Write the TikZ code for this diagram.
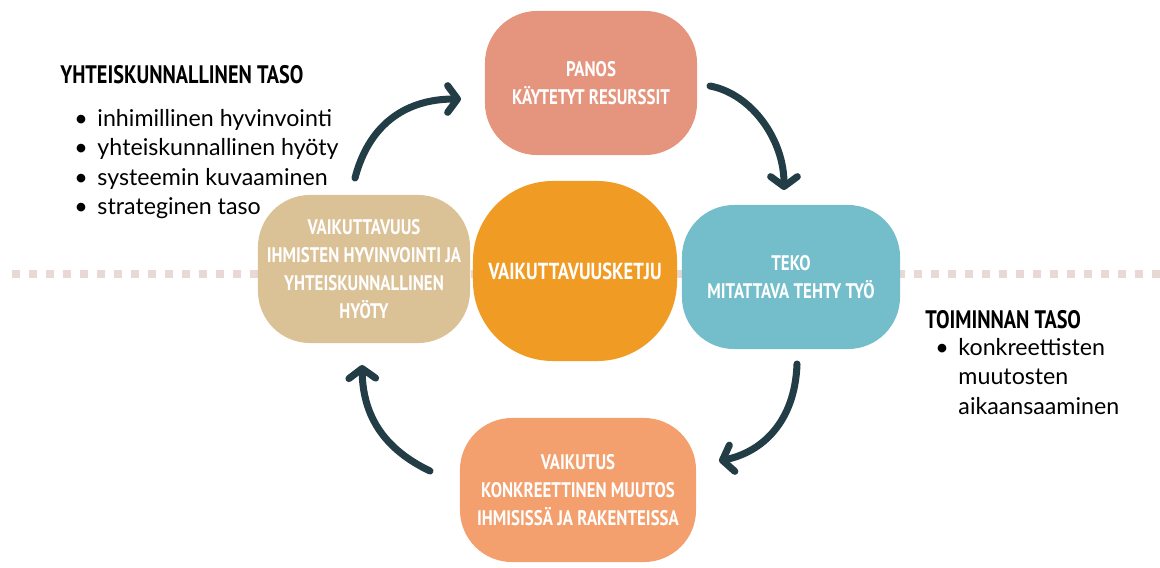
\documentclass[tikz,border=0pt]{standalone}
\usepackage{fontspec}
\setmainfont{Lato}
\newfontfamily\blobfont[FakeStretch=0.8]{PT Sans}
\usetikzlibrary{arrows.meta, shapes.geometric, positioning}
\definecolor{panosc}{HTML}{E5957E}
\definecolor{tekoc}{HTML}{74BECB}
\definecolor{vaikc}{HTML}{F4A06E}
\definecolor{vtc}{HTML}{DBC196}
\definecolor{ketjuc}{HTML}{F09B24}
\definecolor{arrowc}{HTML}{233D47}
\definecolor{dotc}{HTML}{E8D9D5}
\tikzstyle{blob} = [rectangle, rounded corners=1.3cm, minimum width=5.3cm, minimum height=3.6cm, text centered, align=center, text=white, font=\blobfont\bfseries\fontsize{15}{20}\selectfont]
\tikzstyle{head} = [anchor=west, inner sep=0pt, font=\blobfont\bfseries\fontsize{18}{20}\selectfont]
\tikzstyle{list} = [anchor=north west, inner sep=0pt, align=left, font=\fontsize{16.5}{21}\selectfont]
\tikzset{
	FLOW/.style={line width=5pt, line cap=round, draw=arrowc, arrows={-{Straight Barb[length=7pt,width=19pt,round]}}}
}
\newcommand{\bul}[1]{\makebox[16.5pt][l]{\textbullet}#1}
\begin{document}
\begin{tikzpicture}[x=0.025cm, y=-0.025cm]
	\useasboundingbox (0,0) rectangle (1160,567);
	% dotted level line
	\draw[dotc, line width=5.7pt, dash pattern=on 5.7pt off 6.4pt] (12,274) -- (1160,274);
	% blobs
	\node (panos) [blob, fill=panosc] at (591,83) {PANOS\\KÄYTETYT RESURSSIT};
	\node (teko) [blob, fill=tekoc, minimum width=5.45cm] at (791,277) {TEKO\\MITATTAVA TEHTY TYÖ};
	\node (vaikutus) [blob, fill=vaikc, minimum width=5.9cm] at (578,490) {VAIKUTUS\\KONKREETTINEN MUUTOS\\IHMISISSÄ JA RAKENTEISSA};
	\node (vaikuttavuus) [blob, fill=vtc, minimum height=3.7cm] at (364,269) {VAIKUTTAVUUS\\IHMISTEN HYVINVOINTI JA\\YHTEISKUNNALLINEN\\HYÖTY};
	\node (ketju) [blob, rounded corners=2cm, fill=ketjuc, minimum width=5.1cm, minimum height=4.5cm, font=\blobfont\bfseries\fontsize{16.5}{20}\selectfont] at (575,271) {VAIKUTTAVUUSKETJU};
	% arrow ends
	\coordinate (a1) at (355,178);
	\coordinate (b1) at (461,99);
	\coordinate (a2) at (710,86);
	\coordinate (b2) at (784,190);
	\coordinate (a3) at (797,364);
	\coordinate (b3) at (719,461);
	\coordinate (a4) at (430,471);
	\coordinate (b4) at (362,365);
	\draw [FLOW] (a1) .. controls (368,128) and (402,99) .. (b1);
	\draw [FLOW] (a2) .. controls (752,94) and (784,140) .. (b2);
	\draw [FLOW] (a3) .. controls (795,422) and (762,452) .. (b3);
	\draw [FLOW] (a4) .. controls (386,450) and (363,418) .. (b4);
	% levels
	\node (yht) [head] at (60,75) {YHTEISKUNNALLINEN TASO};
	\node (yhtlist) [list] at (74,109) {\bul{inhimillinen hyvinvointi}\\\bul{yhteiskunnallinen hyöty}\\\bul{systeemin kuvaaminen}\\\bul{strateginen taso}};
	\node (toim) [head] at (925,320) {TOIMINNAN TASO};
	\node (toimlist) [list] at (935,338) {\bul{konkreettisten}\\\hspace*{16.5pt}muutosten\\\hspace*{16.5pt}aikaansaaminen};
\end{tikzpicture}
\end{document}
